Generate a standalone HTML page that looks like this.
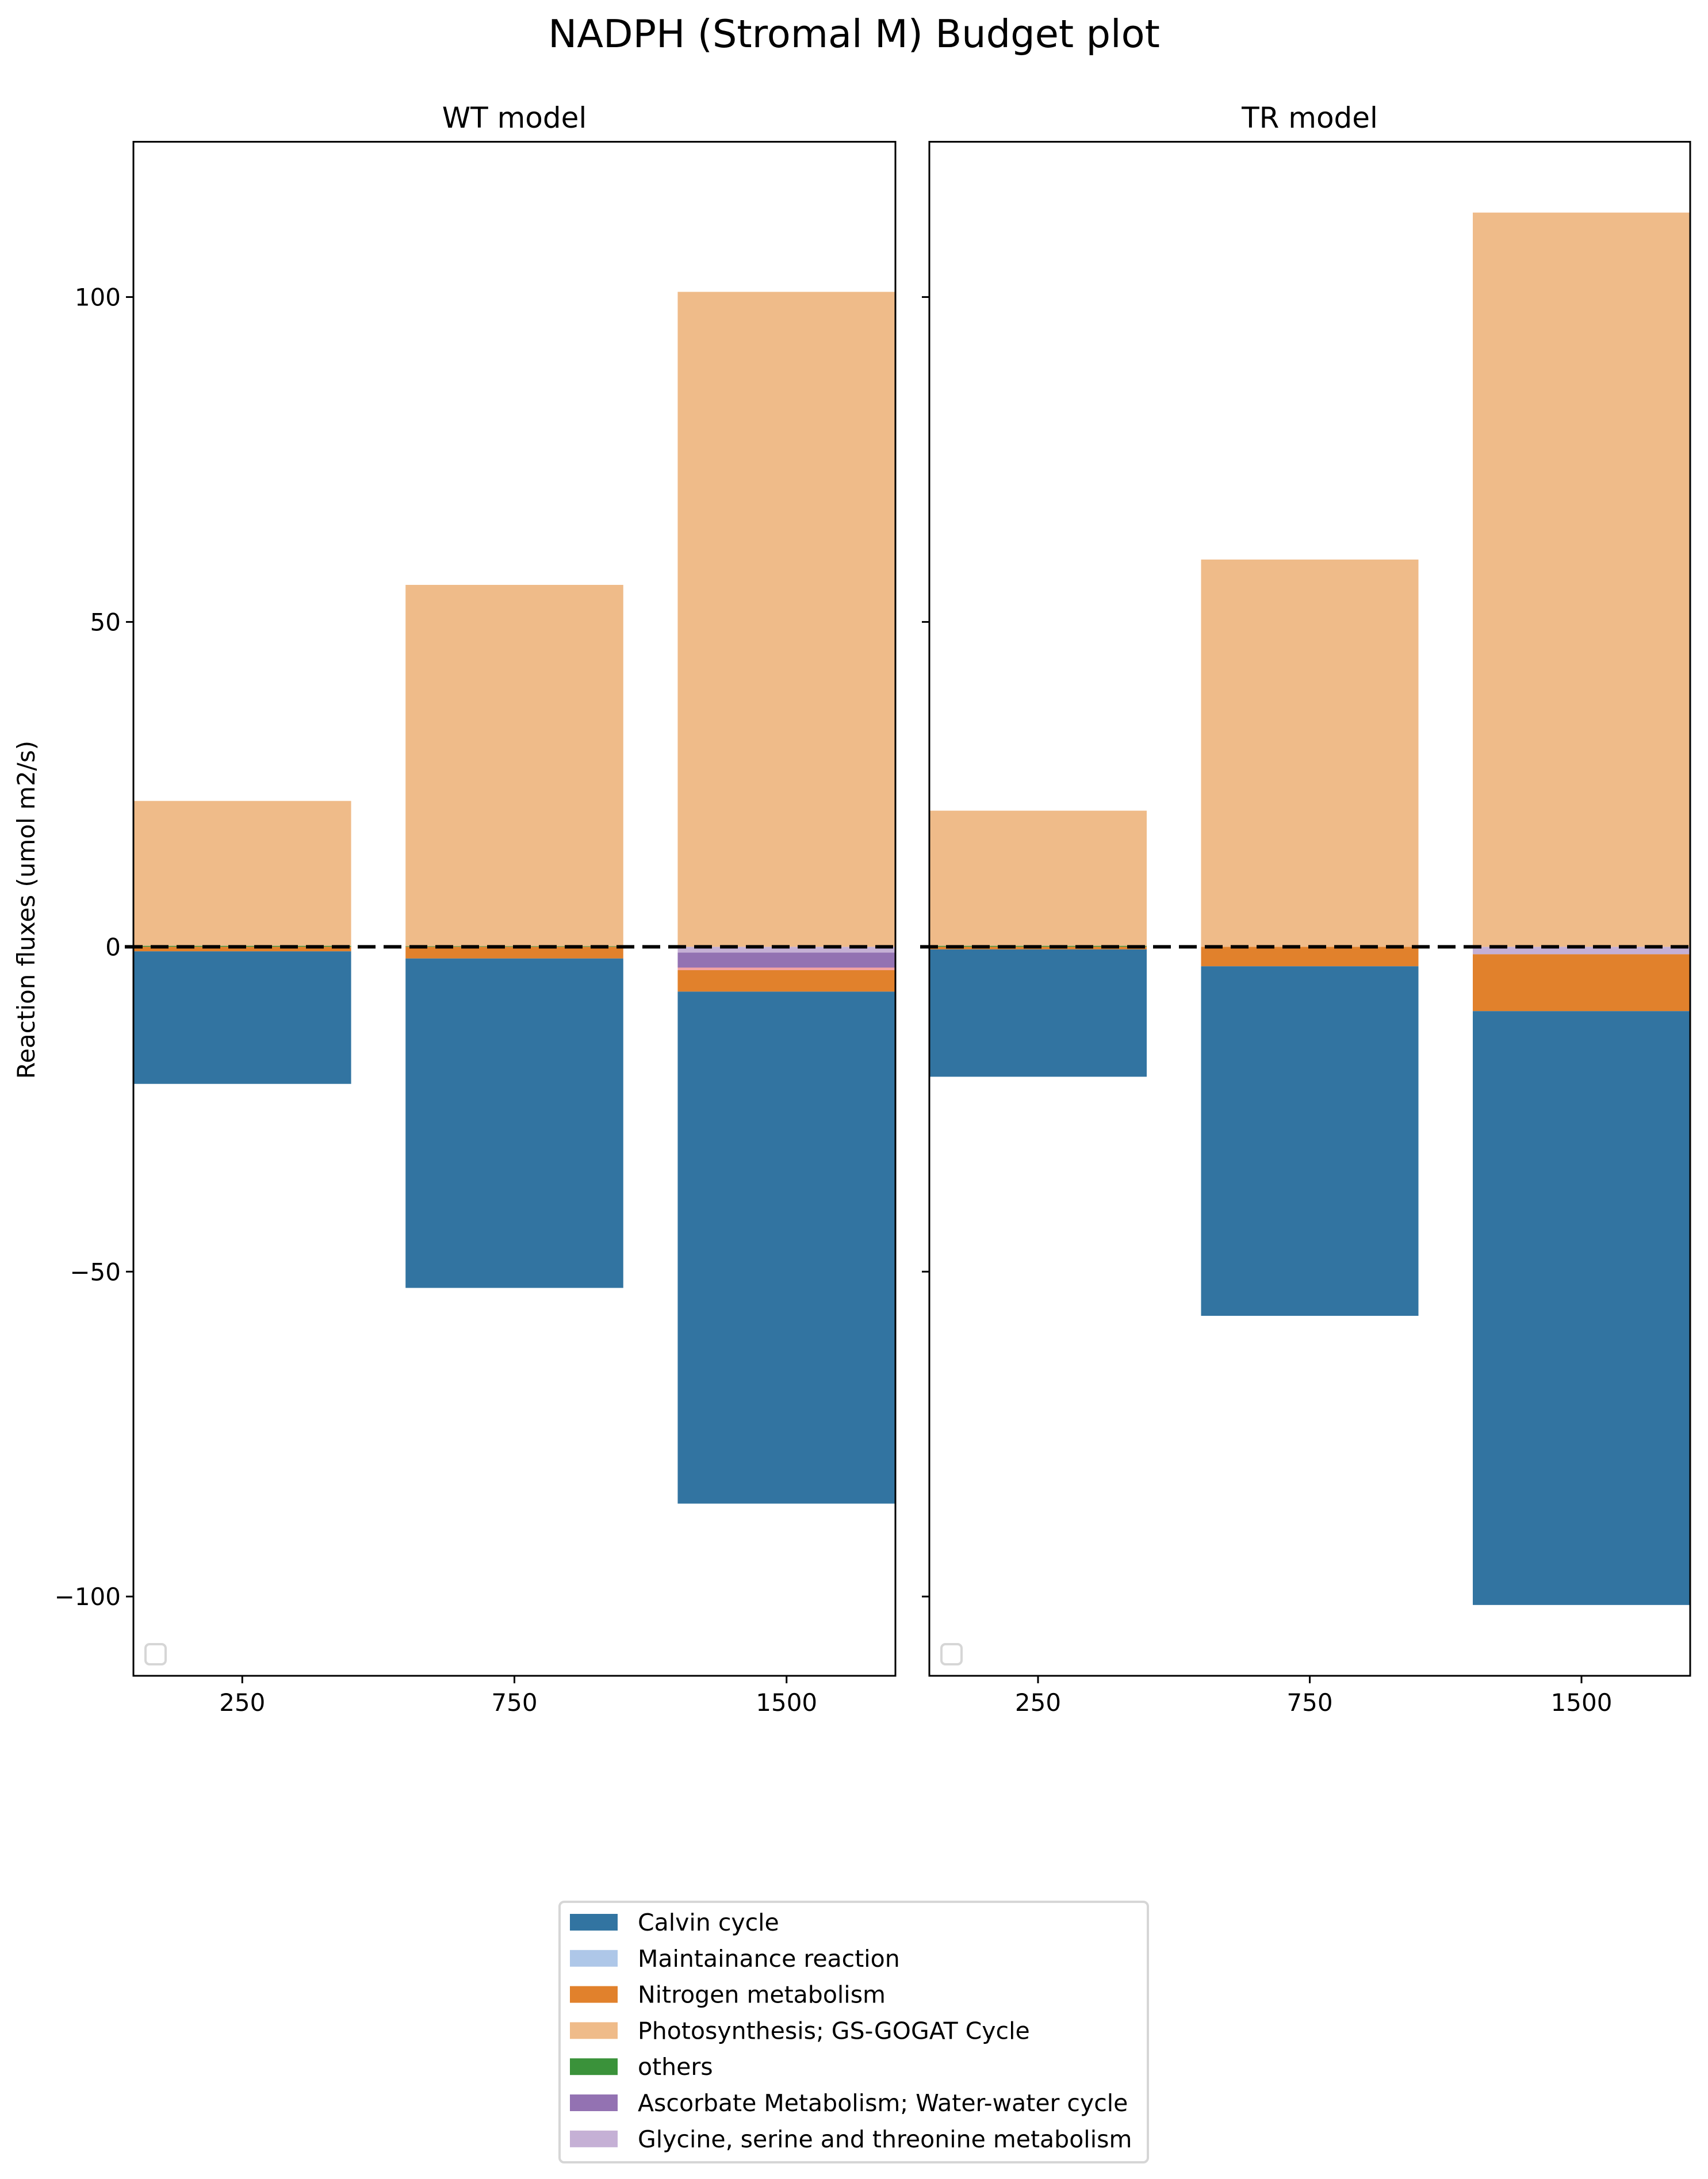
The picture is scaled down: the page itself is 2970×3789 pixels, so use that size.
<!DOCTYPE html>
<html><head><meta charset="utf-8"><style>
html,body{margin:0;padding:0;background:#fff}
svg{display:block;font-family:"DejaVu Sans","Liberation Sans",sans-serif}
</style></head><body>
<svg id="chart" width="2970" height="3789" viewBox="0 0 2970 3789" xmlns="http://www.w3.org/2000/svg">
<rect width="2970" height="3789" fill="#fff"/>
<text x="1485" y="82" font-size="67" text-anchor="middle">NADPH (Stromal M) Budget plot</text>
<text transform="translate(60,1582) rotate(-90)" font-size="42" text-anchor="middle">Reaction fluxes (umol m2/s)</text>
<g id="plots"></g>
<g id="legend"></g>
</svg>
<script>
const categories = ["250","750","1500"];
const seriesNames = ["others","Maintainance reaction","Glycine, serine and threonine metabolism","Ascorbate Metabolism; Water-water cycle","unlabeled","Nitrogen metabolism","Photosynthesis; GS-GOGAT Cycle","Calvin cycle"];
const seriesColors = ["#3a923a","#aec7e8","#c5b0d5","#9372b2","#f4a3a1","#e1812c","#efbb89","#3274a1"];
const wtOthers = [0.15,0.1,0];
const wtMaint = [0,0,0];
const wtGly = [0,0,-0.9];
const wtAsc = [0,0,-2.3];
const wtPink = [0,0,-0.4];
const wtNitro = [-0.7,-1.8,-3.3];
const wtPhoto = [22.3,55.6,100.8];
const wtCalvin = [-20.4,-50.7,-78.8];
const trOthers = [0.15,0,0];
const trMaint = [0,0,0];
const trGly = [0,0,-1.15];
const trAsc = [0,0,0];
const trPink = [0,0,0];
const trNitro = [-0.4,-3.0,-8.75];
const trPhoto = [20.8,59.6,113.0];
const trCalvin = [-19.6,-53.8,-91.4];
const yTicks = [-100,-50,0,50,100];
const legendOrder = [7,1,5,6,0,3,2];
const panelTitles = ["WT model","TR model"];

const NS="http://www.w3.org/2000/svg";
const plotsG=document.getElementById('plots');
function mk(tag,attrs,parent){const e=document.createElementNS(NS,tag);for(const k in attrs)e.setAttribute(k,attrs[k]);(parent||plotsG).appendChild(e);return e;}
const yMin=-112.2, yMax=123.9, plotTop=246.5, plotBottom=2914;
function yScale(v){return plotBottom-(v-yMin)/(yMax-yMin)*(plotBottom-plotTop);}
const panels=[{x0:232,x1:1557,data:[wtOthers,wtMaint,wtGly,wtAsc,wtPink,wtNitro,wtPhoto,wtCalvin]},
              {x0:1616,x1:2939,data:[trOthers,trMaint,trGly,trAsc,trPink,trNitro,trPhoto,trCalvin]}];
panels.forEach((p,pi)=>{
  const xScale=v=>p.x0+(v+0.4)/2.8*(p.x1-p.x0);
  const g=mk('g',{});
  
  
  categories.forEach((c,ci)=>{
    let pos=0,neg=0;
    p.data.forEach((arr,si)=>{
      const v=arr[ci]; if(!v) return;
      let a,b; if(v>0){a=pos;b=pos+v;pos=b;}else{a=neg;b=neg+v;neg=b;}
      const r=mk('rect',{x:xScale(ci-0.4),width:xScale(ci+0.4)-xScale(ci-0.4),y:Math.min(yScale(a),yScale(b)),height:Math.abs(yScale(a)-yScale(b)),fill:seriesColors[si]},g);
      
      
    });
    const t=mk('line',{x1:xScale(ci),x2:xScale(ci),y1:plotBottom,y2:plotBottom+13,stroke:'#000','stroke-width':3},g);
    
    
    const tl=mk('text',{x:xScale(ci),y:2975,'font-size':42,'text-anchor':'middle'},g);
    tl.textContent=c;
    
    
  });
  yTicks.forEach(v=>{
    const t=mk('line',{x1:p.x0-13,x2:p.x0,y1:yScale(v),y2:yScale(v),stroke:'#000','stroke-width':3},g);
    
    
    if(pi===0){
      const tl=mk('text',{x:p.x0-22,y:yScale(v)+15,'font-size':42,'text-anchor':'end'},g);
      tl.textContent=(v<0?'\u2212'+(-v):v);
      
      
    }
  });
  const fr=mk('rect',{x:p.x0,y:plotTop,width:p.x1-p.x0,height:plotBottom-plotTop,fill:'none',stroke:'#000','stroke-width':3},g);
  
  
  const tt=mk('text',{x:(p.x0+p.x1)/2,y:222,'font-size':50,'text-anchor':'middle'},g);
  tt.textContent=panelTitles[pi];
  
  
  const lb=mk('rect',{x:p.x0+21,y:2859,width:35,height:35,rx:7,fill:'#fff',stroke:'#d6d6d6','stroke-width':4},g);
  
  
});
[[217,1557],[1600,2939]].forEach(s=>{
  const z=mk('line',{x1:s[0],x2:s[1],y1:yScale(0),y2:yScale(0),stroke:'#000','stroke-width':6,'stroke-dasharray':'31 14'});
  
  
});
const lg=document.getElementById('legend');
const box=mk('rect',{x:973,y:3307,width:1023,height:453,rx:8,fill:'#fff',stroke:'#d6d6d6','stroke-width':4},lg);


legendOrder.forEach((si,i)=>{
  const cy=3342+i*62.8;
  const r=mk('rect',{x:991,y:cy-14,width:83,height:29,fill:seriesColors[si]},lg);
  
  
  const t=mk('text',{x:1109,y:cy+15,'font-size':41},lg);
  t.textContent=seriesNames[si];
  
  
});
</script>
</body></html>
